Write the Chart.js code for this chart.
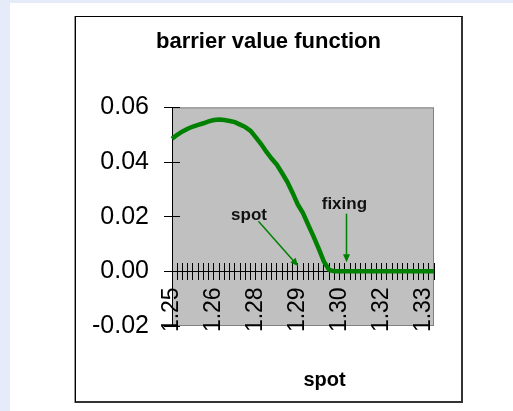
<!DOCTYPE html>
<html>
<head>
<meta charset="utf-8">
<script src="https://cdn.jsdelivr.net/npm/chart.js@4.4.1/dist/chart.umd.min.js"></script>
<style>
html,body{margin:0;padding:0;width:513px;height:411px;overflow:hidden;background:#e6ebfa;}
#sheet{position:absolute;left:10px;top:3px;right:0;bottom:0;background:#fff;}
#frame{position:absolute;left:75px;top:16px;width:385px;height:384px;background:#fff;
  border:1px solid #000;border-right:2px solid #333;border-bottom:2px solid #333;box-shadow:-1px 0 0 #999;}
canvas{display:block;}
</style>
</head>
<body>
<div id="sheet"></div>
<div id="frame"><canvas id="c" width="385" height="384"></canvas></div>
<script>
/* barrier value vs spot */
const spots = ['1.2500','1.2517','1.2533','1.2550','1.2567','1.2583','1.2600','1.2617','1.2633','1.2650',
  '1.2667','1.2683','1.2700','1.2717','1.2733','1.2750','1.2767','1.2783','1.2800','1.2817',
  '1.2833','1.2850','1.2867','1.2883','1.2900','1.2917','1.2933','1.2950','1.2967','1.2983',
  '1.3000','1.3017','1.3033','1.3050','1.3067','1.3083','1.3100','1.3117','1.3133','1.3150',
  '1.3167','1.3183','1.3200','1.3217','1.3233','1.3250','1.3267','1.3283','1.3300','1.3317','1.3333'];
const barrierValue = [0.0485,0.0500,0.0512,0.0522,0.0530,0.0536,0.0542,0.0549,0.0554,0.0556,
  0.0554,0.0550,0.0546,0.0537,0.0528,0.0514,0.0490,0.0466,0.0438,0.0413,
  0.0391,0.0360,0.0328,0.0288,0.0245,0.0213,0.0170,0.0128,0.0083,0.0035,
  0.0005,0,0,0,0,0,0,0,0,0,
  0,0,0,0,0,0,0,0,0,0,0];
const yRange = [-0.02, 0.06];
const yStep = 0.02;
const labelStep = 8;               // one spot label every 8 categories
// annotation positions as [category index, value]
const noteText = ['spot', 'fixing'];
const notePos  = [[14.7, 0.0205], [32.9, 0.0247]];
const arrowFrom = [[16.5, 0.0183], [33.3, 0.0211]];
const arrowTo   = [[24.1, 0.0019], [33.3, 0.0033]];

const GREEN = '#008000', PLOT = '#c0c0c0';
const FONT = "'Liberation Sans', Arial, sans-serif";
Chart.defaults.font.family = FONT;
Chart.defaults.color = '#000';

const plotBg = {id:'plotBg', beforeDraw(c){
  const a=c.chartArea, g=c.ctx;
  g.save(); g.fillStyle=PLOT; g.fillRect(a.left,a.top,a.width,a.height);
  g.strokeStyle='#808080'; g.lineWidth=1;
  g.strokeRect(a.left+0.5,a.top+0.5,a.width-1,a.height-1);
  g.restore();
}};

const notes = {id:'notes', afterDatasetsDraw(c){
  const g=c.ctx, X=c.scales.x, Y=c.scales.y;
  g.save();
  g.fillStyle='#111'; g.font='bold 17px '+FONT; g.textAlign='center'; g.textBaseline='middle';
  noteText.forEach((t,i)=>g.fillText(t, X.getPixelForValue(notePos[i][0]), Y.getPixelForValue(notePos[i][1])));
  g.strokeStyle=GREEN; g.fillStyle=GREEN; g.lineWidth=1.5;
  arrowFrom.forEach((f,i)=>{
    const x1=X.getPixelForValue(f[0]), y1=Y.getPixelForValue(f[1]);
    const x2=X.getPixelForValue(arrowTo[i][0]), y2=Y.getPixelForValue(arrowTo[i][1]);
    const ang=Math.atan2(y2-y1,x2-x1);
    g.beginPath(); g.moveTo(x1,y1); g.lineTo(x2-5*Math.cos(ang),y2-5*Math.sin(ang)); g.stroke();
    g.beginPath(); g.moveTo(x2,y2);
    g.lineTo(x2-8*Math.cos(ang)+3.5*Math.sin(ang), y2-8*Math.sin(ang)-3.5*Math.cos(ang));
    g.lineTo(x2-8*Math.cos(ang)-3.5*Math.sin(ang), y2-8*Math.sin(ang)+3.5*Math.cos(ang));
    g.closePath(); g.fill();
  });
  // axis title
  g.fillStyle='#000'; g.font='bold 20px '+FONT;
  g.fillText('spot', 248.5, 363);
  g.restore();
}};

new Chart(document.getElementById('c'), {
  type:'line',
  data:{labels:spots, datasets:[{data:barrierValue, borderColor:GREEN, borderWidth:4.5,
    pointRadius:0, tension:0, fill:false}]},
  options:{
    responsive:false, animation:false,
    layout:{padding:{left:0,right:0,top:0,bottom:75}},
    plugins:{
      legend:{display:false}, tooltip:{enabled:false},
      title:{display:true, text:'barrier value function', color:'#000',
        font:{size:22, weight:'bold'}, padding:{top:12, bottom:52}}
    },
    scales:{
      x:{type:'category', axis:'x', position:{y:0}, offset:false,
        afterFit(s){ s.paddingLeft=0; s.paddingRight=0; },
        grid:{drawOnChartArea:false, tickLength:8, color:'#000'},
        border:{color:'#000', width:1},
        ticks:{autoSkip:false, minRotation:90, maxRotation:90, padding:8, color:'#000',
          font:{size:23},
          callback:(v,i)=> i%labelStep===0 ? Number(spots[i]).toFixed(2) : ''}},
      xUp:{type:'category', axis:'x', position:{y:0.0029}, offset:false,
        afterFit(s){ s.paddingLeft=0; s.paddingRight=0; },
        grid:{drawOnChartArea:false, tickLength:8, color:'#000'},
        border:{display:false}, ticks:{display:false}},
      y:{type:'linear', axis:'y', position:'left', min:yRange[0], max:yRange[1],
        afterFit(s){ s.width=96; },
        grid:{drawOnChartArea:false, tickLength:8, color:'#000'},
        border:{color:'#000', width:1},
        ticks:{stepSize:yStep, padding:15, color:'#000', font:{size:25},
          callback:v=>v.toFixed(2)}},
      yIn:{type:'linear', axis:'y', position:{x:1.53}, min:yRange[0], max:yRange[1],
        grid:{drawOnChartArea:false, tickLength:8, color:'#000'},
        border:{display:false}, ticks:{display:false, stepSize:yStep}},
      // empty right-hand margin so the title centres on the whole frame
      yPad:{type:'linear', axis:'y', position:'right', min:yRange[0], max:yRange[1],
        afterFit(s){ s.width=27; },
        grid:{display:false}, border:{display:false}, ticks:{display:false}}
    }
  },
  plugins:[plotBg, notes]
});
</script>
</body>
</html>
